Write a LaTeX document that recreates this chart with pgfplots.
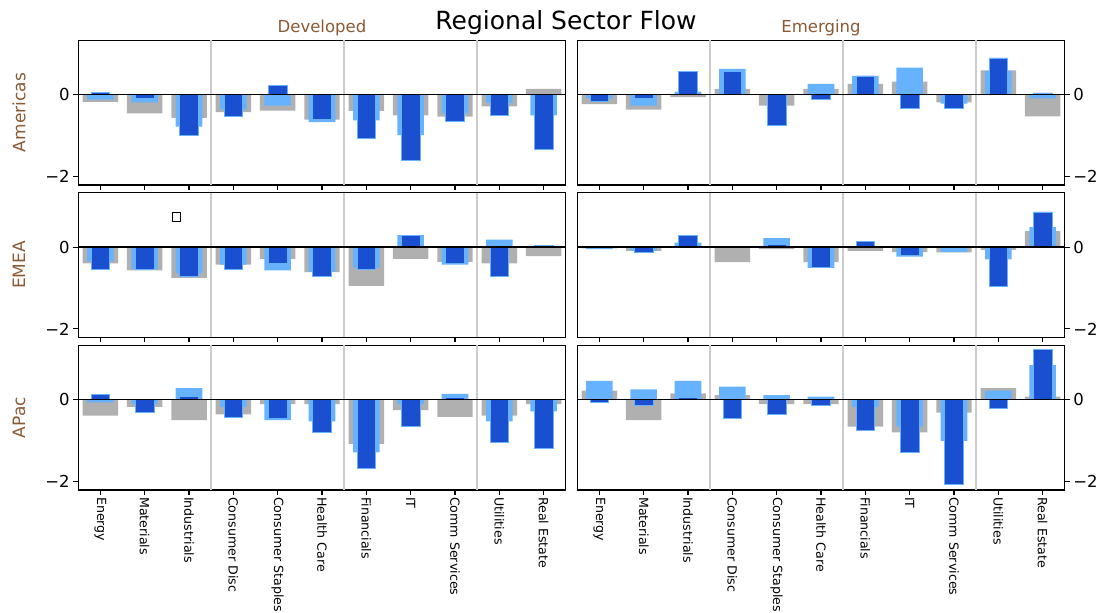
\documentclass[border=0pt]{standalone}
\usepackage{pgfplots}
\usepackage{pgfplotstable}
\usepackage{fontspec}
\setmainfont{DejaVu Sans}
\pgfplotsset{compat=1.18}
\definecolor{cgray}{HTML}{B0B0B0}
\definecolor{clight}{HTML}{66B2FF}
\definecolor{cdark}{HTML}{1A4FCF}
\definecolor{cbrown}{HTML}{8B5A35}
\definecolor{sepgray}{HTML}{CCCCCC}

% x = sector index, g = gray, l = light blue, d = dark blue
\pgfplotstableread{
x g l d
0 -0.18 -0.12 0.05
1 -0.46 -0.19 -0.09
2 -0.57 -0.78 -0.99
3 -0.43 -0.37 -0.54
4 -0.39 -0.27 0.22
5 -0.61 -0.67 -0.60
6 -0.40 -0.63 -1.06
7 -0.51 -0.99 -1.60
8 -0.54 -0.46 -0.64
9 -0.29 -0.20 -0.51
10 0.14 -0.51 -1.33
}\AD
\pgfplotstableread{
x g l d
0 -0.23 -0.09 -0.16
1 -0.37 -0.27 -0.09
2 -0.06 0.07 0.56
3 0.14 0.63 0.56
4 -0.27 0.00 -0.75
5 0.14 0.26 -0.12
6 0.26 0.46 0.46
7 0.32 0.66 -0.33
8 -0.19 -0.22 -0.33
9 0.59 0.58 0.90
10 -0.53 -0.09 0.04
}\AE
\pgfplotstableread{
x g l d
0 -0.40 -0.35 -0.53
1 -0.57 -0.53 -0.53
2 -0.75 -0.64 -0.71
3 -0.43 -0.43 -0.53
4 -0.29 -0.57 -0.39
5 -0.61 -0.60 -0.71
6 -0.95 -0.50 -0.54
7 -0.29 0.29 0.28
8 -0.36 -0.43 -0.39
9 -0.40 0.18 -0.71
10 -0.22 0.00 0.04
}\ED
\pgfplotstableread{
x g l d
0 -0.03 -0.05 -0.02
1 -0.09 -0.09 -0.12
2 0.00 0.11 0.28
3 -0.37 0.00 0.00
4 -0.05 0.22 0.07
5 -0.37 -0.51 -0.50
6 -0.09 0.00 0.14
7 -0.12 -0.23 -0.19
8 -0.13 -0.12 0.00
9 -0.07 -0.30 -0.95
10 0.39 0.49 0.86
}\EE
\pgfplotstableread{
x g l d
0 -0.39 -0.07 0.12
1 -0.18 -0.11 -0.32
2 -0.50 0.28 0.07
3 -0.36 -0.18 -0.43
4 -0.11 -0.50 -0.46
5 -0.11 -0.53 -0.80
6 -1.08 -1.29 -1.67
7 -0.26 -0.11 -0.66
8 -0.42 0.14 0.05
9 -0.39 -0.53 -1.05
10 -0.11 -0.29 -1.19
}\PD
\pgfplotstableread{
x g l d
0 0.22 0.46 -0.07
1 -0.50 0.25 -0.15
2 0.15 0.46 0.05
3 0.11 0.32 -0.46
4 -0.11 0.11 -0.36
5 -0.11 0.07 -0.15
6 -0.66 -0.18 -0.74
7 -0.80 -0.66 -1.29
8 -0.32 -1.01 -2.07
9 0.28 0.22 -0.22
10 0.07 0.84 1.22
}\PE

\pgfplotsset{
  panel/.style={
    scale only axis, width=487.6pt, height=144.8pt, anchor=north west,
    xmin=-0.5, xmax=10.5, ymin=-2.21, ymax=1.33,
    xtick={0,...,10}, ytick={-2,0}, yticklabels={−2,0},
    tick align=outside, xtick pos=bottom, major tick length=5pt,
    axis line style={line width=1.1pt, black},
    every tick/.style={black, line width=1.1pt},
    yticklabel style={font=\fontsize{16.5}{18}\selectfont},
  },
  leftcol/.style={ytick pos=left, yticklabel pos=left},
  rightcol/.style={ytick pos=right, yticklabel pos=right},
  nolabels/.style={xticklabels={}},
  bottomlabels/.style={
    xticklabels={Energy,Materials,Industrials,Consumer Disc,Consumer Staples,Health Care,Financials,IT,Comm Services,Utilities,Real Estate},
    xticklabel style={rotate=-90, anchor=west, font=\fontsize{12.6}{14}\selectfont, inner sep=2pt}},
}
\newcommand{\bars}[1]{%
  \addplot[sepgray, line width=2.2pt] coordinates {(2.5,-2.21) (2.5,1.33)};
  \addplot[sepgray, line width=2.2pt] coordinates {(5.5,-2.21) (5.5,1.33)};
  \addplot[sepgray, line width=2.2pt] coordinates {(8.5,-2.21) (8.5,1.33)};
  \addplot[ybar, bar width=0.8, bar shift=0pt, fill=cgray, draw=none] table[x=x,y=g] {#1};
  \addplot[ybar, bar width=0.6, bar shift=0pt, fill=clight, draw=none] table[x=x,y=l] {#1};
  \addplot[ybar, bar width=0.42, bar shift=0pt, fill=cdark, draw=clight, line width=0.5pt] table[x=x,y=d] {#1};
  \addplot[black, line width=1.4pt] coordinates {(-0.5,0) (10.5,0)};
}

\begin{document}
\begin{tikzpicture}
\useasboundingbox (0pt,0pt) rectangle (1114pt,613pt);

\begin{axis}[panel, leftcol, nolabels, at={(78.2pt,572.8pt)}]
\bars{\AD}
\end{axis}
\begin{axis}[panel, rightcol, nolabels, at={(577.2pt,572.8pt)}]
\bars{\AE}
\end{axis}
\begin{axis}[panel, leftcol, nolabels, at={(78.2pt,420.3pt)}]
\bars{\ED}
\addplot[only marks, mark=square, mark size=4.3pt, mark options={draw=black, line width=1.1pt, fill=none}] coordinates {(1.72,0.74)};
\end{axis}
\begin{axis}[panel, rightcol, nolabels, at={(577.2pt,420.3pt)}]
\bars{\EE}
\end{axis}
\begin{axis}[panel, leftcol, bottomlabels, at={(78.2pt,267.8pt)}]
\bars{\PD}
\end{axis}
\begin{axis}[panel, rightcol, bottomlabels, at={(577.2pt,267.8pt)}]
\bars{\PE}
\end{axis}

\node[anchor=base, font=\fontsize{25}{30}\selectfont] at (566pt,583pt) {Regional Sector Flow};
\node[anchor=base, text=cbrown, font=\fontsize{16.5}{20}\selectfont] at (322pt,580pt) {Developed};
\node[anchor=base, text=cbrown, font=\fontsize{16.5}{20}\selectfont] at (821pt,580pt) {Emerging};
\node[rotate=90, text=cbrown, font=\fontsize{17}{20}\selectfont] at (19pt,500.4pt) {Americas};
\node[rotate=90, text=cbrown, font=\fontsize{17}{20}\selectfont] at (19pt,347.9pt) {EMEA};
\node[rotate=90, text=cbrown, font=\fontsize{17}{20}\selectfont] at (19pt,195.4pt) {APac};
\end{tikzpicture}
\end{document}
